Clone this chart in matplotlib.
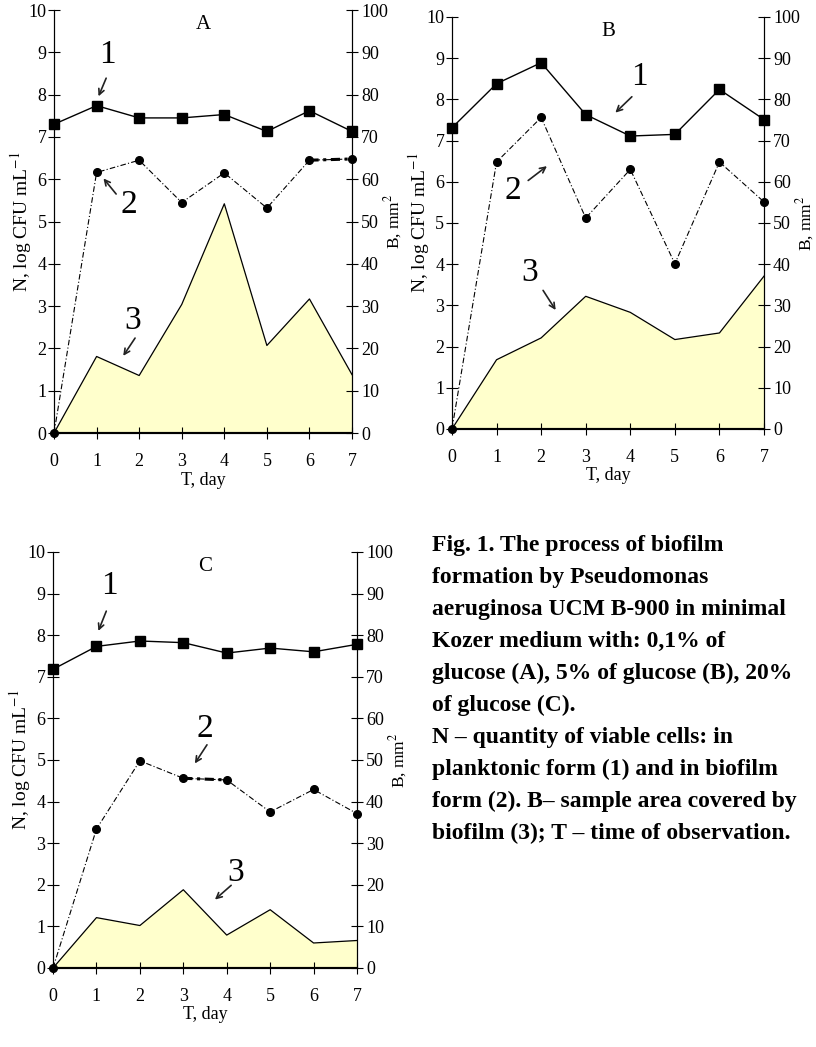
import numpy as np
import matplotlib.pyplot as plt

plt.rcParams['font.family'] = 'Liberation Serif'
plt.rcParams['mathtext.fontset'] = 'stix'

days = [0, 1, 2, 3, 4, 5, 6, 7]

# A - 0,1% glucose
plank_a = [7.30, 7.74, 7.45, 7.45, 7.53, 7.13, 7.62, 7.13]
film_a = [0, 6.16, 6.45, 5.45, 6.15, 5.32, 6.45, 6.48]
area_a = [0, 18.1, 13.6, 30.4, 54.2, 20.7, 31.7, 13.8]

# B - 5% glucose
plank_b = [7.31, 8.38, 8.89, 7.63, 7.11, 7.15, 8.24, 7.51]
film_b = [0, 6.48, 7.56, 5.12, 6.30, 4.01, 6.48, 5.51]
area_b = [0, 16.8, 22.1, 32.2, 28.3, 21.7, 23.3, 37.1]

# C - 20% glucose
plank_c = [7.18, 7.73, 7.86, 7.82, 7.57, 7.69, 7.60, 7.78]
film_c = [0, 3.34, 4.98, 4.56, 4.52, 3.75, 4.29, 3.71]
area_c = [0, 12.1, 10.2, 18.8, 7.9, 14.0, 6.0, 6.6]

caption = [
    "Fig. 1. The process of biofilm",
    "formation by Pseudomonas",
    "aeruginosa UCM B-900 in minimal",
    "Kozer medium with: 0,1% of",
    "glucose (A), 5% of glucose (B), 20%",
    "of glucose (C).",
    "N \u2013 quantity of viable cells: in",
    "planktonic form (1) and in biofilm",
    "form (2). B\u2013 sample area covered by",
    "biofilm (3); T \u2013 time of observation.",
]

fig = plt.figure(figsize=(8.16, 10.47), dpi=100)


def panel(rect, plank, film, area, letter, notes, heavy=None):
    ax = fig.add_axes(rect)
    ax2 = ax.twinx()
    # area on the right axis (mm2), drawn behind the count curves
    ax2.fill_between(days, area, 0, facecolor='#FFFFCC', edgecolor='none')
    ax2.plot(days, area, color='black', lw=0.9)
    ax.set_zorder(ax2.get_zorder() + 1)
    ax.patch.set_visible(False)

    ax.plot(days, plank, color='black', lw=1.0, marker='s', ms=7, clip_on=False)
    ax.plot(days, film, color='black', lw=0.8, ls=(0, (5, 2, 1, 2)),
            marker='o', ms=5.5, clip_on=False)
    if heavy is not None:
        # one segment printed bolder in the original
        ax.plot(days[heavy:heavy + 2], film[heavy:heavy + 2], color='black',
                lw=2.2, ls=(0, (3, 1.5, 1, 1.5)), clip_on=False)

    ax.set_xlim(0, 7)
    ax.set_ylim(0, 10)
    ax2.set_ylim(0, 100)
    ax.set_xticks(days)
    ax.set_yticks(range(0, 11))
    ax2.set_yticks(range(0, 101, 10))
    for a in (ax, ax2):
        a.spines['top'].set_visible(False)
        a.spines['bottom'].set_linewidth(1.5)
    ax.tick_params(axis='x', direction='inout', length=9, width=0.8, labelsize=13, pad=10)
    ax.tick_params(axis='y', direction='inout', length=9, width=0.8, labelsize=13, pad=1)
    ax2.tick_params(axis='y', direction='inout', length=9, width=0.8, labelsize=13, pad=2)

    ax.set_xlabel('T, day', fontsize=13, labelpad=1)
    ax.set_ylabel('N, log CFU mL$^{-1}$', fontsize=14, labelpad=-4)
    ax2.set_ylabel('B, mm$^{2}$', fontsize=12.5, labelpad=-4)

    ax.text(3.5, 9.65, letter, fontsize=15, ha='center', va='center')
    for label, txt_xy, tail, head in notes:
        ax.text(txt_xy[0], txt_xy[1], label, fontsize=24, ha='center', va='center')
        ax.annotate('', xy=head, xytext=tail,
                    arrowprops=dict(arrowstyle='->', lw=1.2, color='#222222'))
    return ax


panel([0.0662, 0.5864, 0.3652, 0.404], plank_a, film_a, area_a, 'A',
      [('1', (1.25, 8.95), (1.25, 8.45), (1.02, 7.9)),
       ('2', (1.75, 5.4), (1.5, 5.6), (1.12, 6.07)),
       ('3', (1.85, 2.65), (1.94, 2.3), (1.59, 1.77))], heavy=6)

panel([0.5539, 0.5903, 0.3824, 0.3935], plank_b, film_b, area_b, 'B',
      [('1', (4.2, 8.56), (4.08, 8.11), (3.62, 7.63)),
       ('2', (1.36, 5.77), (1.66, 5.99), (2.18, 6.42)),
       ('3', (1.75, 3.79), (2.01, 3.42), (2.36, 2.83))])

panel([0.065, 0.0755, 0.3725, 0.3973], plank_c, film_c, area_c, 'C',
      [('1', (1.31, 9.2), (1.25, 8.64), (1.02, 8.04)),
       ('2', (3.5, 5.75), (3.58, 5.42), (3.23, 4.86)),
       ('3', (4.2, 2.3), (4.15, 2.03), (3.68, 1.6))], heavy=3)

for i, line in enumerate(caption):
    fig.text(432 / 816, 1 - (545 + 32 * i) / 1047, line, fontsize=17,
             fontweight='bold', ha='left', va='center')

fig.savefig('out.png', dpi=100)
